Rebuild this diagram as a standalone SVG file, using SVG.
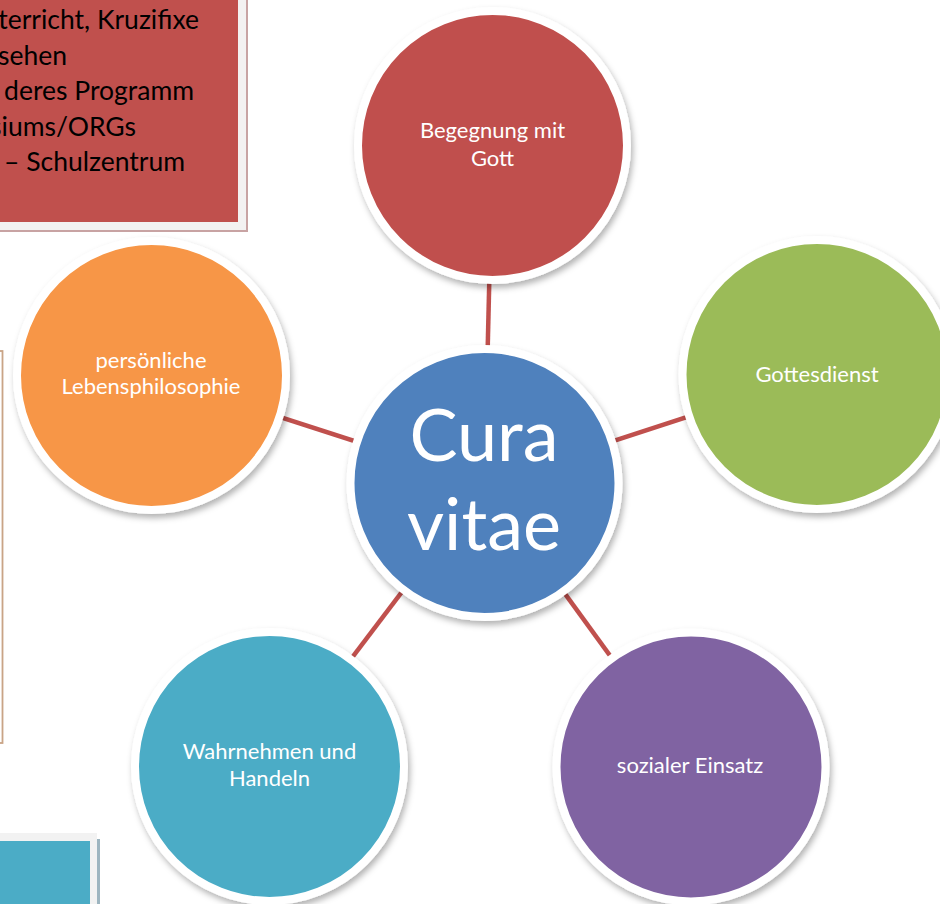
<svg xmlns="http://www.w3.org/2000/svg" width="940" height="904" viewBox="0 0 940 904">
<defs>
<filter id="sh" x="-20%" y="-20%" width="140%" height="140%">
<feDropShadow dx="2" dy="4" stdDeviation="3" flood-color="#000" flood-opacity="0.3"/>
</filter>
</defs>
<style>
.node{stroke:#fff;stroke-width:8;filter:url(#sh)}
.lbl{font-family:Lato,"Open Sans",sans-serif;font-size:22px;fill:#fff;text-anchor:middle}
.big{font-family:Lato,"Open Sans",sans-serif;font-size:72px;fill:#fff;text-anchor:middle}
.box{font-family:Lato,"Open Sans",sans-serif;font-size:26.5px;fill:#000;text-anchor:end}
.conn{stroke:#c0504d;stroke-width:4.5;fill:none}
</style>
<rect width="940" height="904" fill="#fff"/>

<g id="box-top">
<rect x="-10" y="-10" width="258" height="242" fill="#c8a3a3"/>
<rect x="-10" y="-10" width="256" height="240" fill="#f3f1f1"/>
<rect x="-10" y="-10" width="248" height="232" fill="#c0504d"/>
<text class="box" x="199" y="29">terricht, Kruzifixe</text>
<text class="box" x="67" y="64.5">sehen</text>
<text class="box" x="194" y="100">deres Programm</text>
<text class="box" x="136" y="135.5">siums/ORGs</text>
<text class="box" x="185" y="171">– Schulzentrum</text>
</g>

<g id="box-left">
<rect x="-20" y="351" width="22.5" height="392" fill="#fff" stroke="#c9a486" stroke-width="1.8"/>
</g>

<g id="box-bottom">
<rect x="-10" y="839" width="110" height="80" fill="#9db5c0"/>
<rect x="-10" y="833" width="107" height="80" fill="#f2f2f2"/>
<rect x="-10" y="841" width="100" height="80" fill="#4bacc6"/>
</g>

<g id="connectors">
<line class="conn" x1="492.5" y1="145.5" x2="484.5" y2="483"/>
<line class="conn" x1="817" y1="374.5" x2="484.5" y2="483"/>
<line class="conn" x1="151.5" y1="375.5" x2="484.5" y2="483"/>
<line class="conn" x1="269.5" y1="766.5" x2="484.5" y2="483"/>
<line class="conn" x1="691" y1="767" x2="484.5" y2="483"/>
</g>

<g id="n-begegnung">
<circle class="node" cx="492.5" cy="145.5" r="134.5" fill="#c0504d"/>
<text class="lbl" x="492.5" y="138">Begegnung mit</text>
<text class="lbl" x="492.5" y="166">Gott</text>
</g>

<g id="n-gottesdienst">
<circle class="node" cx="817" cy="374.5" r="134.5" fill="#9bbb59"/>
<text class="lbl" x="817" y="382">Gottesdienst</text>
</g>

<g id="n-lebensphilosophie">
<circle class="node" cx="151.5" cy="375.5" r="134.5" fill="#f79646"/>
<text class="lbl" x="151" y="368">persönliche</text>
<text class="lbl" x="151" y="394">Lebensphilosophie</text>
</g>

<g id="n-wahrnehmen">
<circle class="node" cx="269.5" cy="766.5" r="134.5" fill="#4bacc6"/>
<text class="lbl" x="269.5" y="759">Wahrnehmen und</text>
<text class="lbl" x="269.5" y="786">Handeln</text>
</g>

<g id="n-sozial">
<circle class="node" cx="691" cy="767" r="134.5" fill="#8064a2"/>
<text class="lbl" x="690" y="773">sozialer Einsatz</text>
</g>

<g id="n-center">
<circle class="node" cx="484.5" cy="483" r="134" fill="#4f81bd"/>
<text class="big" x="484" y="461">Cura</text>
<text class="big" x="484" y="550">vitae</text>
</g>
</svg>
